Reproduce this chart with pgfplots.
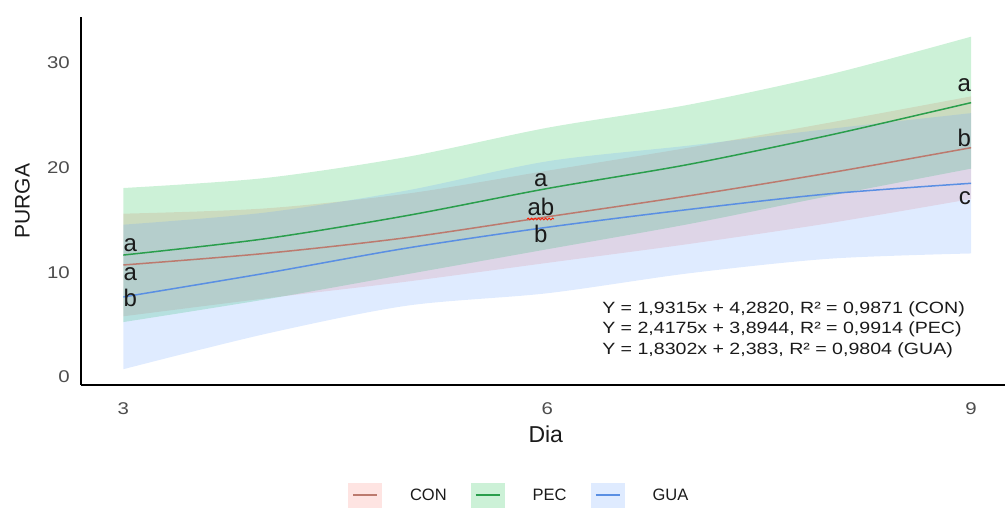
\documentclass[border=0pt]{standalone}
\usepackage{fontspec}
\setmainfont{Liberation Sans}
\newfontfamily\wideA[FakeStretch=1.2]{Liberation Sans}
\usepackage{pgfplots}
\pgfplotsset{compat=1.18}
\usepackage{pgfplotstable}
\usepgfplotslibrary{fillbetween}
\usetikzlibrary{decorations.pathmorphing}

\definecolor{conF}{HTML}{F8766D}
\definecolor{pecF}{HTML}{00BA38}
\definecolor{guaF}{HTML}{619CFF}
\definecolor{conL}{HTML}{BC7A6E}
\definecolor{pecL}{HTML}{2A9E4C}
\definecolor{guaL}{HTML}{5A8FE3}
\definecolor{tickgray}{HTML}{4D4D4D}
\definecolor{txt}{HTML}{1A1A1A}

\pgfplotstableread{
x y lo hi
3 10.7 5.8 15.6
4 11.8 7.5 16.1
5 13.3 9.1 17.5
6 15.3 10.9 19.7
7 17.3 12.7 21.9
8 19.5 14.7 24.3
9 21.9 17.0 26.8
}\con

\pgfplotstableread{
x y lo hi
3 11.65 5.25 18.05
4 13.2 7.4 19.0
5 15.4 9.8 21.0
6 18.0 12.2 23.8
7 20.3 14.6 26.0
8 23.1 17.3 28.9
9 26.2 19.9 32.5
}\pec

\pgfplotstableread{
x y lo hi
3 7.65 0.75 14.55
4 9.9 4.1 15.7
5 12.3 6.8 17.8
6 14.3 8.0 20.6
7 16.0 9.9 22.1
8 17.5 11.3 23.7
9 18.5 11.8 25.2
}\gua

\begin{document}
\begin{tikzpicture}
\begin{axis}[
  at={(81pt,124pt)}, anchor=south west,
  scale only axis, width=924pt, height=368pt,
  xmin=2.7, xmax=9.24, ymin=-0.76, ymax=34.38,
  axis lines=left,
  axis line style={-, line width=1.3pt, black},
  xtick={3,6,9}, ytick={0,10,20,30},
  major tick length=0pt,
  /pgf/number format/assume math mode=true,
  tick label style={font=\wideA\fontsize{17}{20}\selectfont, text=tickgray, inner sep=0pt},
  xticklabel style={yshift=-17pt},
  yticklabel style={xshift=-11pt},
  xlabel={Dia}, ylabel={PURGA},
  every axis x label/.style={at={(axis description cs:0.503,-0.133)}, anchor=center, font=\fontsize{23}{26}\selectfont, text=txt},
  every axis y label/.style={at={(axis description cs:-0.0633,0.5)}, rotate=90, anchor=center, font=\fontsize{21}{24}\selectfont, text=txt},
  legend columns=3,
  legend style={at={(axis description cs:0.289,-0.299)}, anchor=west, draw=none, fill=none,
    inner sep=0pt, outer sep=0pt, font=\fontsize{16.5}{19}\selectfont, text=txt,
    cells={anchor=west},
    nodes={inner sep=0pt, outer sep=0pt},
    /tikz/every odd column/.append style={column sep=28pt},
    /tikz/every even column/.append style={column sep=24pt}},
  clip=false,
]
% ribbons
\addplot[name path=conU, draw=none, smooth, forget plot] table[x=x, y=hi] {\con};
\addplot[name path=conD, draw=none, smooth, forget plot] table[x=x, y=lo] {\con};
\addplot[conF, fill opacity=0.2, draw=none, forget plot] fill between[of=conU and conD];
\addplot[name path=pecU, draw=none, smooth, forget plot] table[x=x, y=hi] {\pec};
\addplot[name path=pecD, draw=none, smooth, forget plot] table[x=x, y=lo] {\pec};
\addplot[pecF, fill opacity=0.2, draw=none, forget plot] fill between[of=pecU and pecD];
\addplot[name path=guaU, draw=none, smooth, forget plot] table[x=x, y=hi] {\gua};
\addplot[name path=guaD, draw=none, smooth, forget plot] table[x=x, y=lo] {\gua};
\addplot[guaF, fill opacity=0.2, draw=none, forget plot] fill between[of=guaU and guaD];
% lines
\addplot[conL, line width=1.5pt, smooth, mark=none,
  legend image code/.code={\path[draw=none, fill=conF, fill opacity=0.2] (0pt,-12.5pt) rectangle (34pt,12.5pt); \draw[conL, line width=1.5pt] (5pt,0pt) -- (29pt,0pt);}]
  table[x=x, y=y] {\con};
\addlegendentry{CON}
\addplot[pecL, line width=1.5pt, smooth, mark=none,
  legend image code/.code={\path[draw=none, fill=pecF, fill opacity=0.2] (0pt,-12.5pt) rectangle (34pt,12.5pt); \draw[pecL, line width=1.5pt] (5pt,0pt) -- (29pt,0pt);}]
  table[x=x, y=y] {\pec};
\addlegendentry{PEC}
\addplot[guaL, line width=1.5pt, smooth, mark=none,
  legend image code/.code={\path[draw=none, fill=guaF, fill opacity=0.2] (0pt,-12.5pt) rectangle (34pt,12.5pt); \draw[guaL, line width=1.5pt] (5pt,0pt) -- (29pt,0pt);}]
  table[x=x, y=y] {\gua};
\addlegendentry{GUA}
% letters
\begin{scope}[every node/.style={inner sep=0pt, font=\fontsize{24}{28}\selectfont, text=txt}]
\node[anchor=base west] at (axis cs:3,11.94) {a};
\node[anchor=base west] at (axis cs:3,9.26) {a};
\node[anchor=base west] at (axis cs:3,6.69) {b};
\node[anchor=base] at (axis cs:5.955,18.15) {a};
\node[anchor=base] at (axis cs:5.955,15.47) {ab};
\node[anchor=base] at (axis cs:5.955,12.83) {b};
\node[anchor=base east] at (axis cs:9,27.25) {a};
\node[anchor=base east] at (axis cs:9,22.0) {b};
\node[anchor=base east] at (axis cs:9,16.43) {c};
\end{scope}
\draw[red!80!orange, line width=0.8pt, decorate, decoration={snake, amplitude=1pt, segment length=3.5pt}]
  (axis cs:5.857,15.09) -- (axis cs:6.048,15.09);
% equations
\begin{scope}[every node/.style={inner sep=0pt, anchor=base west, font=\wideA\fontsize{16.3}{20}\selectfont, text=txt}]
\node at (axis cs:6.388,6.11) {Y = 1,9315x + 4,2820, R² = 0,9871 (CON)};
\node at (axis cs:6.388,4.155) {Y = 2,4175x + 3,8944, R² = 0,9914 (PEC)};
\node at (axis cs:6.388,2.197) {Y = 1,8302x + 2,383, R² = 0,9804 (GUA)};
\end{scope}
\end{axis}
\pgfresetboundingbox
\useasboundingbox (0,0) rectangle (1005pt,509pt);
\end{tikzpicture}
\end{document}
